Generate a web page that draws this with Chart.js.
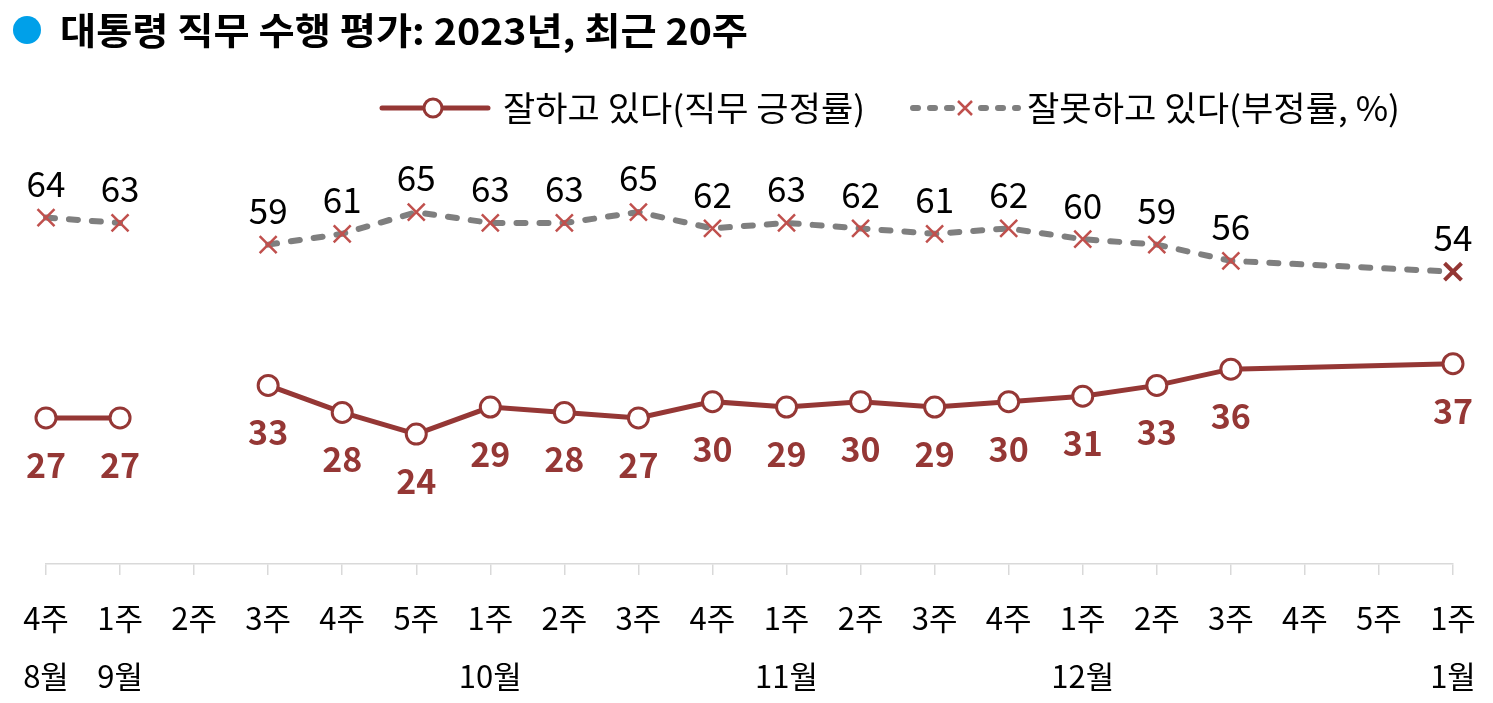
<!DOCTYPE html>
<html>
<head>
<meta charset="utf-8">
<script src="https://cdn.jsdelivr.net/npm/chart.js@4"></script>
<style>
  html, body { margin: 0; padding: 0; background: #fff; }
  #wrap { width: 1493px; height: 703px; position: relative; }
</style>
</head>
<body>
<div id="wrap"><canvas id="myChart"></canvas></div>
<script>
var weeks = ["4주", "1주", "2주", "3주", "4주", "5주", "1주", "2주", "3주", "4주",
             "1주", "2주", "3주", "4주", "1주", "2주", "3주", "4주", "5주", "1주"];
var months = ["8월", "9월", "", "", "", "", "10월", "", "", "",
              "11월", "", "", "", "12월", "", "", "", "", "1월"];
var positive = [27, 27, null, 33, 28, 24, 29, 28, 27, 30, 29, 30, 29, 30, 31, 33, 36, null, null, 37];
var negative = [64, 63, null, 59, 61, 65, 63, 63, 65, 62, 63, 62, 61, 62, 60, 59, 56, null, null, 54];

var title = "대통령 직무 수행 평가: 2023년, 최근 20주";
var posName = "잘하고 있다(직무 긍정률)";
var negName = "잘못하고 있다(부정률, %)";

var FONT = "'Noto Sans CJK KR', 'Noto Sans', sans-serif";
var RED = "#953735";
var XRED = "#c0504d";
var GRAY = "#7f7f7f";

var labels = [];
for (var i = 0; i < weeks.length; i++) {
  labels.push([weeks[i], months[i]]);
}

// no line across the 2주 gap, but the end of the series is joined
function gapSeg(ctx) {
  return (ctx.p0DataIndex === 1 || ctx.p0DataIndex === 2) ? "rgba(0,0,0,0)" : undefined;
}

// draw text squeezed/stretched to a target width
function fitText(c, txt, x, y, w) {
  var m = c.measureText(txt).width;
  c.save();
  c.translate(x, y);
  c.scale(w / m, 1);
  c.fillText(txt, 0, 0);
  c.restore();
}

var extras = {
  id: "extras",
  afterDraw: function (chart) {
    var c = chart.ctx;
    c.save();
    // title
    c.fillStyle = "#00a0e9";
    c.beginPath();
    c.arc(27, 30, 14, 0, Math.PI * 2);
    c.fill();
    c.fillStyle = "#000";
    c.font = "bold 37px " + FONT;
    c.textBaseline = "middle";
    c.textAlign = "left";
    fitText(c, title, 60, 31, 688);

    // legend
    c.strokeStyle = RED;
    c.lineWidth = 5;
    c.lineCap = "round";
    c.beginPath();
    c.moveTo(382, 108);
    c.lineTo(488, 108);
    c.stroke();
    c.fillStyle = "#fff";
    c.lineWidth = 3;
    c.beginPath();
    c.arc(433, 108, 9, 0, Math.PI * 2);
    c.fill();
    c.stroke();

    c.strokeStyle = GRAY;
    c.lineWidth = 6;
    c.setLineDash([5, 12]);
    c.beginPath();
    c.moveTo(913, 108);
    c.lineTo(1018, 108);
    c.stroke();
    c.setLineDash([]);
    c.fillStyle = "#fff";
    c.fillRect(955, 98, 20, 20);
    c.strokeStyle = XRED;
    c.lineWidth = 2.5;
    c.lineCap = "butt";
    c.beginPath();
    c.moveTo(958, 101); c.lineTo(972, 115);
    c.moveTo(972, 101); c.lineTo(958, 115);
    c.stroke();

    c.fillStyle = "#000";
    c.font = "34px " + FONT;
    fitText(c, posName, 503, 108, 362);
    fitText(c, negName, 1027, 108, 373);
    c.restore();
  },
  afterDatasetsDraw: function (chart) {
    var c = chart.ctx;
    c.save();
    c.textAlign = "center";
    c.textBaseline = "middle";
    chart.data.datasets.forEach(function (ds, di) {
      var meta = chart.getDatasetMeta(di);
      meta.data.forEach(function (pt, j) {
        var v = ds.data[j];
        if (v === null) return;
        if (di === 0) {
          c.fillStyle = RED;
          c.font = "bold 34px " + FONT;
          c.fillText(v, pt.x, pt.y + 47);
        } else {
          c.fillStyle = "#000";
          c.font = "35px " + FONT;
          c.fillText(v, pt.x, pt.y - 34);
        }
      });
    });
    c.restore();
  }
};

var negBorder = negative.map(function (v, k) { return k === negative.length - 1 ? "#943634" : XRED; });
var negBw = negative.map(function (v, k) { return k === negative.length - 1 ? 4 : 2.5; });

const data = {
  labels: labels,
  datasets: [
    {
      label: posName,
      data: positive,
      borderColor: RED,
      borderWidth: 5,
      pointStyle: "circle",
      pointRadius: 10,
      pointBorderWidth: 3,
      pointBackgroundColor: "#fff",
      pointBorderColor: RED,
      spanGaps: true,
      segment: { borderColor: gapSeg },
      tension: 0,
    },
    {
      label: negName,
      data: negative,
      borderColor: GRAY,
      borderWidth: 6,
      borderDash: [9, 14],
      borderCapStyle: "round",
      pointStyle: "crossRot",
      pointRadius: 12,
      pointBorderWidth: negBw,
      pointBorderColor: negBorder,
      spanGaps: true,
      segment: { borderColor: gapSeg },
      tension: 0,
    },
  ],
};

const config = {
  type: "line",
  data: data,
  options: {
    responsive: true,
    maintainAspectRatio: false,
    animation: false,
    layout: { padding: { left: 46, right: 40, top: 158, bottom: 0 } },
    plugins: { legend: { display: false }, tooltip: { enabled: false } },
    scales: {
      x: {
        offset: false,
        border: { color: "#d9d9d9", width: 1.5 },
        grid: { drawOnChartArea: false, drawTicks: true, tickLength: 11, color: "#d9d9d9", lineWidth: 1.5 },
        ticks: {
          color: "#000",
          padding: 14,
          maxRotation: 0,
          autoSkip: false,
          font: { family: FONT, size: 31, lineHeight: 1.87 },
        },
        afterFit: function (scale) {
          scale.height -= 16;
        },
      },
      y: { display: false, min: 0, max: 75 },
    },
  },
  plugins: [extras],
};

const myChart = new Chart(document.getElementById("myChart"), config);
</script>
</body>
</html>
